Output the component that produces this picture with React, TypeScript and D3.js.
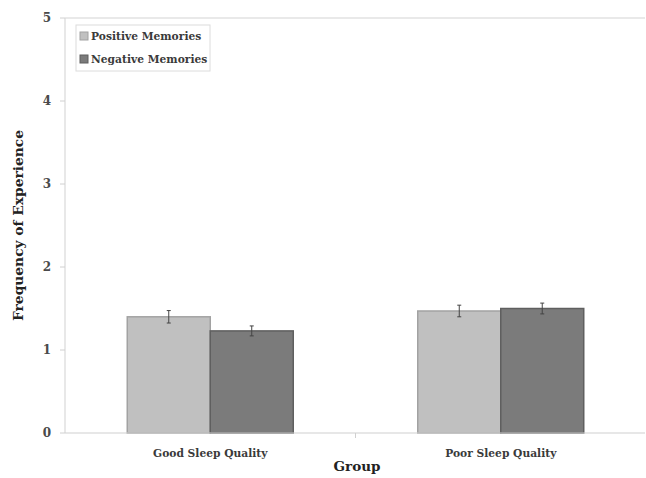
import React from "react";
import * as d3 from "d3";

const categories = ["Good Sleep Quality", "Poor Sleep Quality"];
const seriesNames = ["Positive Memories", "Negative Memories"];
const positiveValues = [1.40, 1.47];
const negativeValues = [1.23, 1.50];
const positiveErrors = [0.075, 0.07];
const negativeErrors = [0.06, 0.065];
const yTicks = [0, 1, 2, 3, 4, 5];

const W = 646;
const H = 478;
const margin = { left: 65, right: 0, top: 18, bottom: 45 };
const fills = ["#c0c0c0", "#7b7b7b"];
const strokes = ["#a2a2a2", "#5f5f5f"];
const font = "'DejaVu Serif', serif";

export default function App() {
  const x0 = d3.scaleBand<string>().domain(categories).range([margin.left, W - margin.right]).padding(0);
  const bw = x0.bandwidth();
  const x1 = d3.scaleBand<string>().domain(seriesNames).range([bw * 0.2143, bw * 0.7857]).padding(0);
  const y = d3.scaleLinear().domain([0, 5]).range([H - margin.bottom, margin.top]);
  const values = [positiveValues, negativeValues];
  const errors = [positiveErrors, negativeErrors];

  return (
    <svg width={W} height={H} style={{ position: "absolute", left: 0, top: 0, background: "#fff" }}>
      <rect x={0} y={0} width={W} height={H} fill="#fff" />
      <line x1={margin.left} x2={W - 1} y1={y(5)} y2={y(5)} stroke="#e2e2e2" strokeWidth={1.5} />
      <line x1={margin.left} x2={margin.left} y1={y(5)} y2={y(0)} stroke="#d9d9d9" strokeWidth={1.2} />
      {yTicks.map((t) => (
        <g key={t}>
          <line x1={margin.left - 5} x2={margin.left} y1={y(t)} y2={y(t)} stroke="#d0d0d0" />
          <text x={margin.left - 14} y={y(t)} dy="0.35em" textAnchor="end" fontFamily={font} fontSize={12} fontWeight={600} fill="#4a4a4a">
            {t}
          </text>
        </g>
      ))}
      {categories.map((c, ci) => (
        <g key={c} transform={`translate(${x0(c)},0)`}>
          {seriesNames.map((s, si) => {
            const v = values[si][ci];
            const e = errors[si][ci];
            const bx = x1(s)!;
            const cx = bx + x1.bandwidth() / 2;
            return (
              <g key={s}>
                <rect x={bx} y={y(v)} width={x1.bandwidth()} height={y(0) - y(v)} fill={fills[si]} stroke={strokes[si]} strokeWidth={1.5} />
                <line x1={cx} x2={cx} y1={y(v + e)} y2={y(v - e)} stroke="#444" strokeWidth={1} />
                <line x1={cx - 2} x2={cx + 2} y1={y(v + e)} y2={y(v + e)} stroke="#444" strokeWidth={1} />
                <line x1={cx - 2} x2={cx + 2} y1={y(v - e)} y2={y(v - e)} stroke="#444" strokeWidth={1} />
              </g>
            );
          })}
        </g>
      ))}
      <line x1={margin.left} x2={W - 1} y1={y(0)} y2={y(0)} stroke="#d0d0d0" strokeWidth={1.2} />
      {categories.slice(1).map((c) => (
        <line key={c} x1={x0(c)!} x2={x0(c)!} y1={y(0)} y2={y(0) + 5} stroke="#d0d0d0" />
      ))}
      {categories.map((c) => (
        <text key={c} x={x0(c)! + bw / 2} y={y(0) + 24} textAnchor="middle" fontFamily={font} fontSize={10.7} fontWeight="bold" fill="#3a3a3a">
          {c}
        </text>
      ))}
      <text x={357} y={471} textAnchor="middle" fontFamily={font} fontSize={13.5} fontWeight="bold" fill="#222">
        Group
      </text>
      <text transform={`translate(23,${(y(0) + y(5)) / 2}) rotate(-90)`} textAnchor="middle" fontFamily={font} fontSize={13.8} fontWeight="bold" fill="#222">
        Frequency of Experience
      </text>
      <rect x={76} y={25} width={134} height={46} fill="#fff" stroke="#dcdcdc" strokeWidth={1} />
      {seriesNames.map((s, i) => (
        <g key={s} transform={`translate(80,${36 + i * 23})`}>
          <rect x={0} y={-4} width={8} height={8} fill={fills[i]} stroke={strokes[i]} />
          <text x={11} y={0} dy="0.35em" fontFamily={font} fontSize={10.7} fontWeight="bold" fill="#3a3a3a">
            {s}
          </text>
        </g>
      ))}
    </svg>
  );
}
